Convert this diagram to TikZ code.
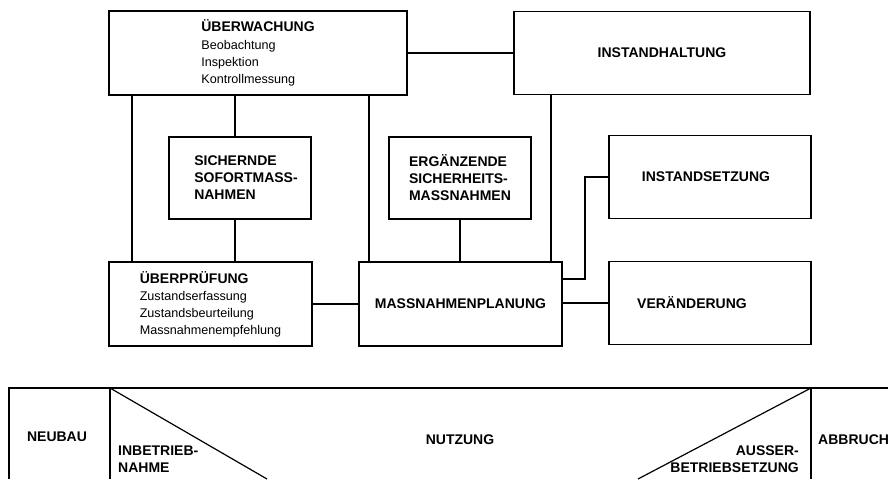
\documentclass[tikz,border=0pt]{standalone}
\usepackage{fontspec}
\setmainfont{Liberation Sans}
\usetikzlibrary{positioning}
\newcommand{\subline}[1]{{\mdseries\fontsize{12.6}{14.5}\selectfont #1}}
\tikzset{%
    box/.style={draw, line width=1.1pt, inner sep=0pt, align=left,
        font=\fontsize{14}{17}\selectfont\bfseries},
    thickbox/.style={box, line width=2.4pt},
    link/.style={line width=1.6pt},
    phase/.style={inner sep=0pt, align=left,
        font=\fontsize{14}{17}\selectfont\bfseries}
}

\begin{document}
\begin{tikzpicture}[x=1pt, y=-1pt]

    \useasboundingbox (0, 0) rectangle (888, 479);

    % Top row
    \node[box, minimum width=298pt, minimum height=84pt] (ueberw) at (258, 53)
        {ÜBERWACHUNG\\[1pt] \subline{Beobachtung}\\ \subline{Inspektion}\\
         \subline{Kontrollmessung}};
    \node[box, minimum width=296pt, minimum height=83pt] (insth) at (662, 53)
        {INSTANDHALTUNG};

    % Middle row
    \node[box, minimum width=142pt, minimum height=82pt] (sich) at (240, 178)
        {\hspace*{12pt}SICHERNDE\\\hspace*{12pt}SOFORTMASS-\\\hspace*{12pt}NAHMEN};
    \node[box, minimum width=142pt, minimum height=82pt] (ergz) at (460, 178)
        {ERGÄNZENDE\\ SICHERHEITS-\\ MASSNAHMEN};
    \node[box, minimum width=202pt, minimum height=83pt] (insts) at (710, 177)
        {\hspace*{-8pt}INSTANDSETZUNG};

    % Bottom row
    \node[thickbox, minimum width=203pt, minimum height=84pt] (uebp) at (210.5, 304)
        {ÜBERPRÜFUNG\\ \subline{Zustandserfassung}\\ \subline{Zustandsbeurteilung}\\
         \subline{Massnahmenempfehlung}};
    \node[thickbox, minimum width=203pt, minimum height=84pt] (mplan) at (460.5, 304)
        {MASSNAHMENPLANUNG};
    \node[box, minimum width=202pt, minimum height=83pt] (veraend) at (710, 303)
        {VERÄNDERUNG\hspace*{36pt}};

    % Connecting the boxes
    \draw[link] (ueberw.east) -- (ueberw.east -| insth.west);
    \draw[link] ([xshift=24pt] uebp.north west)
        -- ([xshift=24pt] uebp.north west |- ueberw.south);
    \draw[link] ([xshift=-5pt] sich.north) -- ([xshift=-5pt] sich.north |- ueberw.south);
    \draw[link] ([xshift=-5pt] sich.south) -- ([xshift=-5pt] sich.south |- uebp.north);
    \draw[link] ([xshift=11pt] mplan.north west)
        -- ([xshift=11pt] mplan.north west |- ueberw.south);
    \draw[link] (ergz.south) -- (ergz.south |- mplan.north);
    \draw[link] ([xshift=-12pt] mplan.north east)
        -- ([xshift=-12pt] mplan.north east |- insth.south);
    \draw[link] (uebp.east) -- (mplan.west);
    \draw[link] ([yshift=25pt] mplan.east) -- ++(22, 0) |- (insts.west);
    \draw[link] (veraend.west) -- (veraend.west -| mplan.east);

    % Life cycle
    \coordinate (start) at (9, 388);
    \coordinate (useA) at (110, 388);
    \coordinate (useB) at (811, 388);
    \draw[line width=1.2pt] (9, 479) -- (start) -- (888, 388);
    \draw[line width=1.2pt] (useA) -- (110, 479);
    \draw[line width=1.2pt] (useB) -- (811, 479);
    \draw[line width=1.2pt] (useA) -- (267, 479);
    \draw[line width=1.2pt] (useB) -- (638, 479);

    \node[phase] (neubau) at (57, 437) {NEUBAU};
    \node[phase] (nutzung) at (460, 440) {NUTZUNG};
    \node[phase, anchor=west] (abbruch) at (818, 440) {ABBRUCH};
    \node[phase, anchor=north west] (inbetr) at (118, 446) {INBETRIEB-\\NAHME};
    \node[phase, anchor=north east, align=right] (ausser) at (799, 446)
        {AUSSER-\\BETRIEBSETZUNG};

\end{tikzpicture}
\end{document}
